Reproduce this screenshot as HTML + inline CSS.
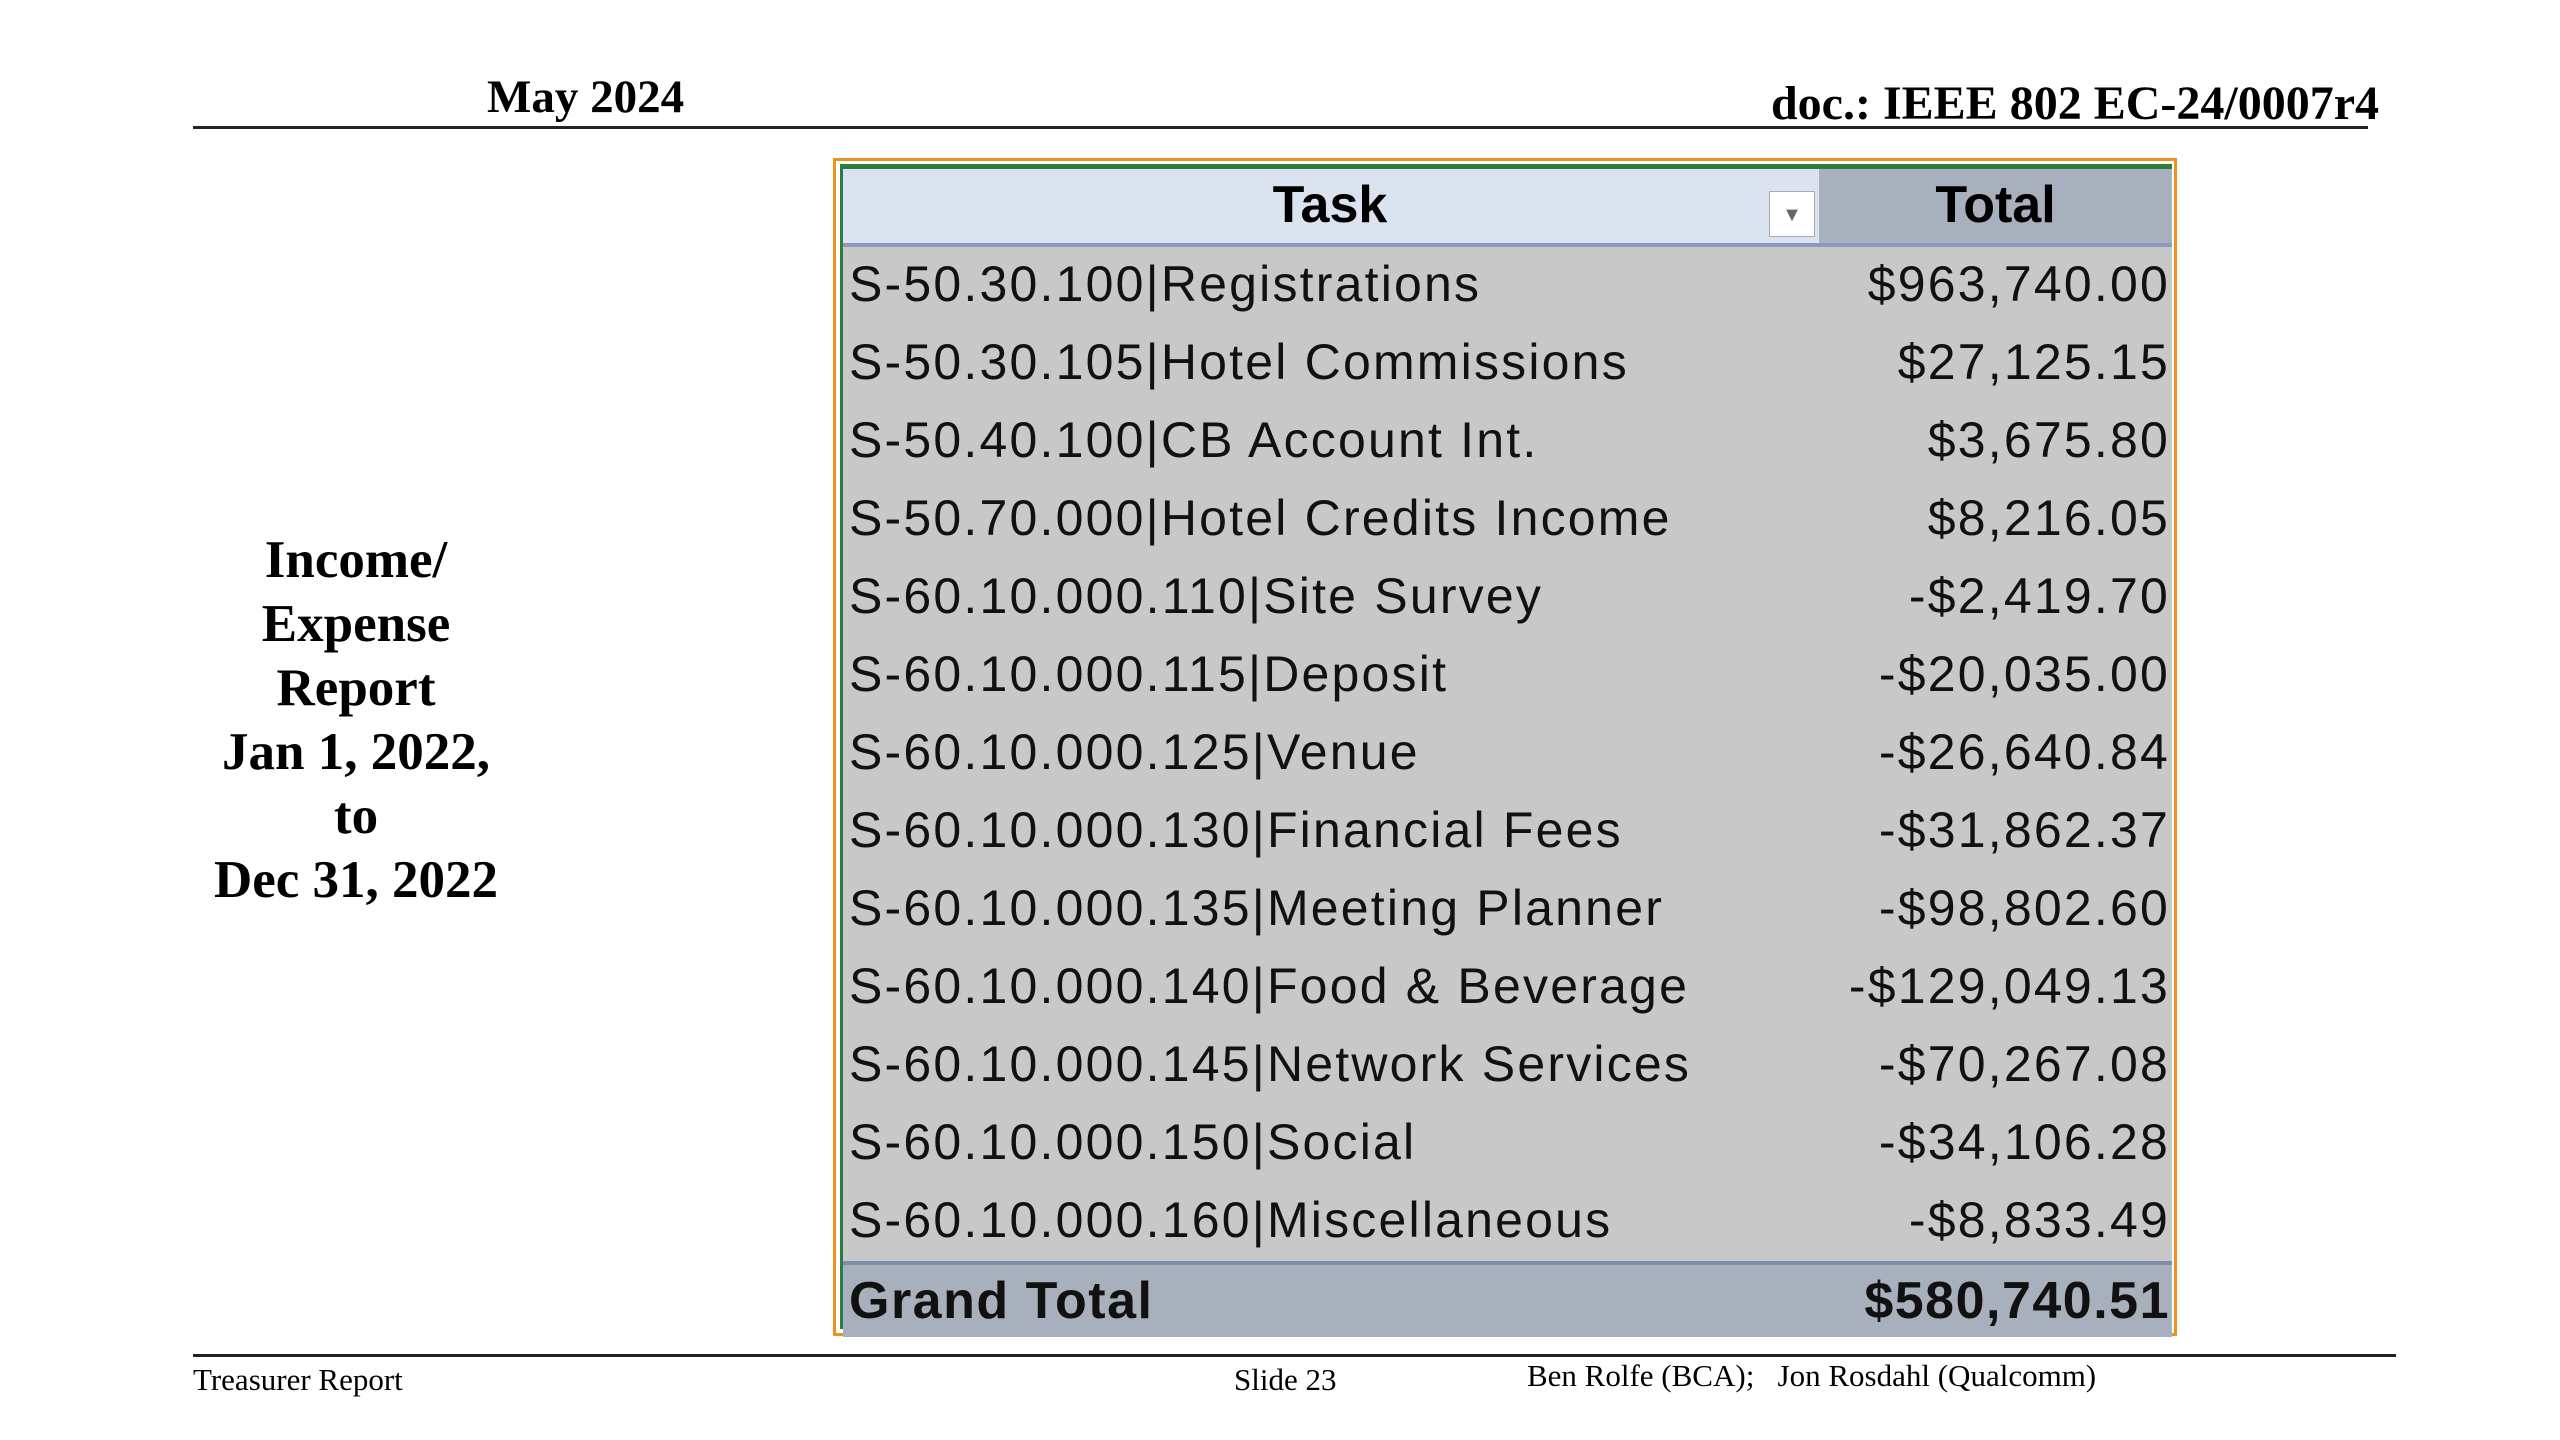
<!DOCTYPE html>
<html><head><meta charset="utf-8"><style>
body{margin:0;width:2560px;height:1440px;background:#fff;position:relative;overflow:hidden;font-family:"Liberation Serif",serif}
.abs{position:absolute;white-space:nowrap}
.hr{position:absolute;background:#222}
#tbl{position:absolute;left:833px;top:158px;width:1344px;height:1178px;border:3px solid #f0901e;box-sizing:border-box;background:#fff}
#inner{position:absolute;left:4px;top:3px;right:2px;bottom:4px;border-left:3px solid #2e7d40;border-top:5px solid #2e7d40;background:#c8c8c8}
.row{position:absolute;left:0;right:0;height:78px;font-family:"Liberation Sans",sans-serif;font-size:50px;letter-spacing:2.2px;color:#111}
.row .t{position:absolute;left:6px;top:8px}
.row .v{position:absolute;right:2px;top:8px}
</style></head><body>
<div class="abs" style="left:487px;top:70px;font-size:47px;font-weight:bold">May 2024</div>
<div class="abs" style="right:181px;top:76px;font-size:48px;font-weight:bold">doc.: IEEE 802 EC-24/0007r4</div>
<div class="hr" style="left:193px;top:126px;width:2175px;height:3px"></div>
<div class="abs" style="left:156px;top:528px;width:400px;text-align:center;font-size:53px;font-weight:bold;line-height:64px;white-space:normal">Income/<br>Expense<br>Report<br>Jan 1, 2022,<br>to<br>Dec 31, 2022</div>
<div id="tbl"><div id="inner"></div></div>
<div class="hr" style="left:193px;top:1354px;width:2203px;height:3px"></div>
<div class="abs" style="left:193px;top:1362px;font-size:31px">Treasurer Report</div>
<div class="abs" style="left:1234px;top:1362px;font-size:31px">Slide 23</div>
<div class="abs" style="left:1527px;top:1358px;font-size:31px">Ben Rolfe (BCA);&nbsp;&nbsp; Jon Rosdahl (Qualcomm)</div>
<script>
const tasks=["S-50.30.100|Registrations","S-50.30.105|Hotel Commissions","S-50.40.100|CB Account Int.","S-50.70.000|Hotel Credits Income","S-60.10.000.110|Site Survey","S-60.10.000.115|Deposit","S-60.10.000.125|Venue","S-60.10.000.130|Financial Fees","S-60.10.000.135|Meeting Planner","S-60.10.000.140|Food & Beverage","S-60.10.000.145|Network Services","S-60.10.000.150|Social","S-60.10.000.160|Miscellaneous"];
const totals=["$963,740.00","$27,125.15","$3,675.80","$8,216.05","-$2,419.70","-$20,035.00","-$26,640.84","-$31,862.37","-$98,802.60","-$129,049.13","-$70,267.08","-$34,106.28","-$8,833.49"];
const grandLabel="Grand Total";
const grandTotal="$580,740.51";
const inner=document.getElementById('inner');
const hdr=document.createElement('div');


hdr.style.cssText='position:absolute;left:0;right:0;top:0;height:74px;background:#dbe3f1;border-bottom:4px solid #8a9ab8;font-family:"Liberation Sans",sans-serif;font-weight:bold;font-size:52px';
hdr.innerHTML='<div style="position:absolute;left:0;width:974px;top:6px;text-align:center">Task</div><div style="position:absolute;left:926px;top:22px;width:46px;height:46px;background:#fff;border:1px solid #aaa;box-sizing:border-box;font-size:20px;color:#666;text-align:center;line-height:46px">▼</div><div style="position:absolute;left:976px;right:0;top:0;bottom:0;background:#a8b0be;text-align:center;padding-top:6px">Total</div>';
inner.appendChild(hdr);
tasks.forEach((t,i)=>{
  const r=document.createElement('div');
  
  
  r.className='row';
  r.style.top=(78+i*78)+'px';
  r.innerHTML='<span class="t">'+t.replace('&','&amp;')+'</span><span class="v">'+totals[i]+'</span>';
  inner.appendChild(r);
});
const g=document.createElement('div');


g.className='row';
g.style.cssText='top:1092px;height:72px;background:#a8b0be;border-top:4px solid #7f8ea8;font-weight:bold;font-size:52px;letter-spacing:1.5px';
g.innerHTML='<span class="t" style="top:6px">'+grandLabel+'</span><span class="v" style="top:6px">'+grandTotal+'</span>';
inner.appendChild(g);
</script>
</body></html>
